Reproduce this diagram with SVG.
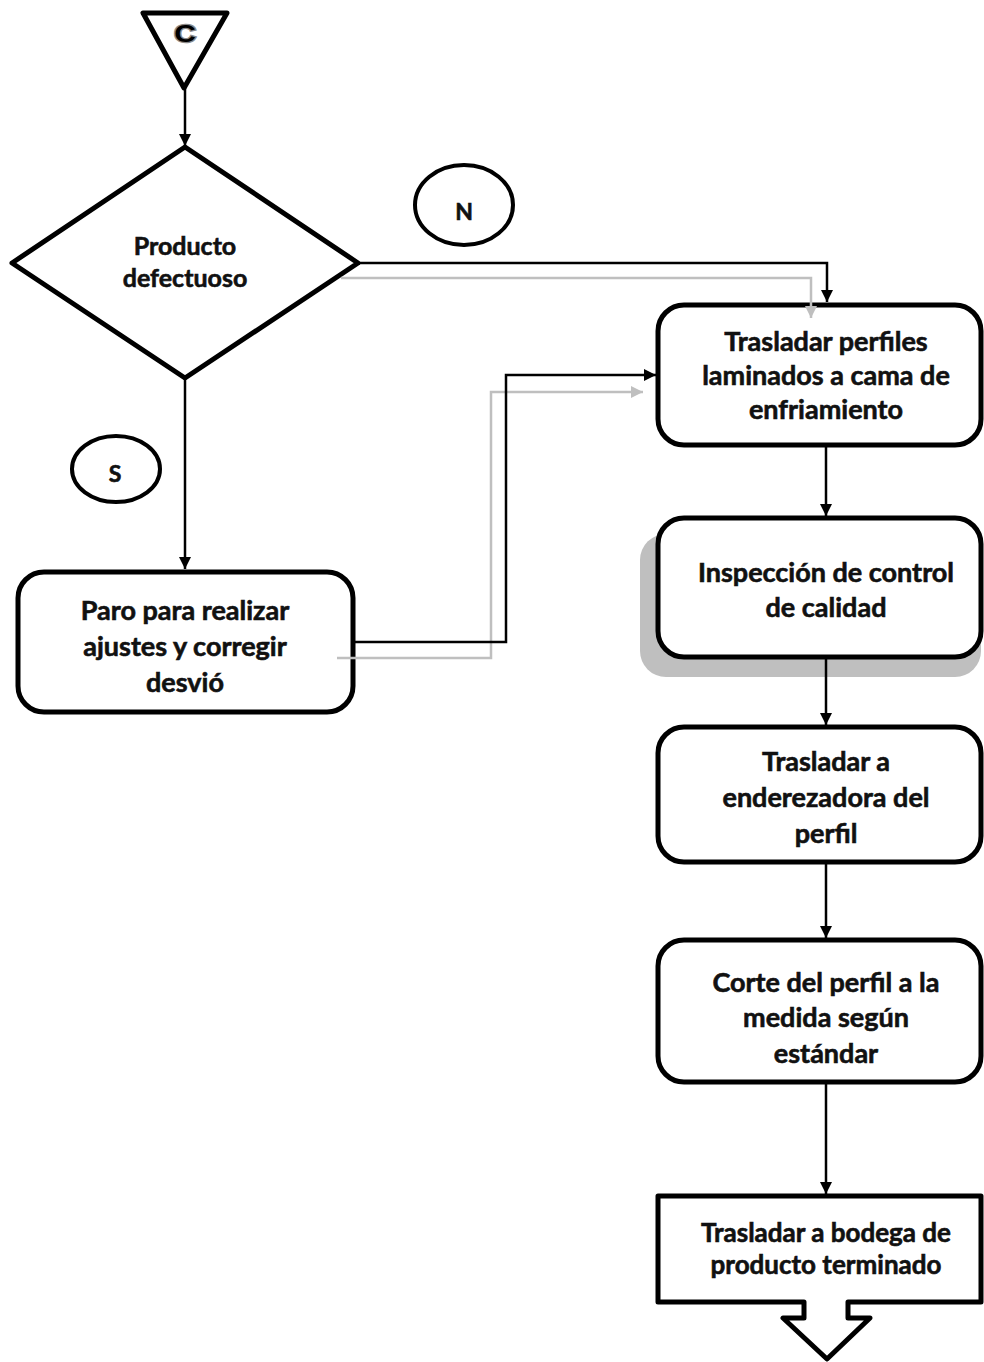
<svg xmlns="http://www.w3.org/2000/svg" width="984" height="1362" viewBox="0 0 984 1362">
<defs>
<style>
.box{fill:#fff;stroke:#000;stroke-width:5;stroke-linejoin:round}
.ell{fill:#fff;stroke:#000;stroke-width:4}
.t{font-family:Lato,"Open Sans","Liberation Sans",sans-serif;font-weight:bold;fill:#111;stroke:#111;stroke-width:0.6;text-anchor:middle}
.c{fill:none;stroke:#000;stroke-width:2.5}
.g{fill:none;stroke:#bfbfbf;stroke-width:2.5}
</style>
<marker id="ab" viewBox="0 0 10 10" refX="10" refY="5" markerWidth="14" markerHeight="12" markerUnits="userSpaceOnUse" orient="auto"><path d="M0,0L10,5L0,10z" fill="#000"/></marker>
<marker id="ag" viewBox="0 0 10 10" refX="10" refY="5" markerWidth="14" markerHeight="12" markerUnits="userSpaceOnUse" orient="auto"><path d="M0,0L10,5L0,10z" fill="#bfbfbf"/></marker>
</defs>
<rect width="984" height="1362" fill="#fff"/>
<g id="start">
<path class="box" d="M143,13H227L184,88z"/>
<text x="185" y="42" font-size="24" text-anchor="middle" transform="translate(185 0) scale(1.25 1) translate(-185 0)" style="font-family:'Liberation Sans',Arial,sans-serif;font-weight:bold;fill:#000;stroke:#8a8a8a;stroke-width:2.5;paint-order:stroke">C</text>
</g>
<g id="decision">
<path class="box" d="M185,147L358,263L185,378L12,263z"/>
<text class="t" x="185" y="255" font-size="25">Producto</text>
<text class="t" x="185" y="287" font-size="25">defectuoso</text>
</g>
<g id="labelN">
<ellipse class="ell" cx="464" cy="205" rx="49" ry="40"/>
<text class="t" x="464" y="220" font-size="23">N</text>
</g>
<g id="labelS">
<ellipse class="ell" cx="116" cy="469" rx="44" ry="33"/>
<text class="t" x="115" y="482" font-size="23">S</text>
</g>
<g id="paro">
<rect class="box" x="18" y="572" width="335" height="140" rx="26"/>
<text class="t" x="185" y="620" font-size="27">Paro para realizar</text>
<text class="t" x="185" y="656" font-size="27">ajustes y corregir</text>
<text class="t" x="185" y="692" font-size="27">desvió</text>
</g>
<g id="trasladar1">
<rect class="box" x="658" y="305" width="323" height="140" rx="26"/>
<text class="t" x="826" y="351" font-size="27">Trasladar perfiles</text>
<text class="t" x="826" y="385" font-size="27">laminados a cama de</text>
<text class="t" x="826" y="419" font-size="27">enfriamiento</text>
</g>
<g id="inspeccion">
<rect x="640" y="534" width="341" height="143" rx="26" fill="#bfbfbf"/>
<rect class="box" x="658" y="518" width="323" height="139" rx="26"/>
<text class="t" x="826" y="582" font-size="27">Inspección de control</text>
<text class="t" x="826" y="617" font-size="27">de calidad</text>
</g>
<g id="enderezadora">
<rect class="box" x="658" y="727" width="323" height="135" rx="26"/>
<text class="t" x="826" y="771" font-size="27">Trasladar a</text>
<text class="t" x="826" y="807" font-size="27">enderezadora del</text>
<text class="t" x="826" y="843" font-size="27">perfil</text>
</g>
<g id="corte">
<rect class="box" x="658" y="940" width="323" height="142" rx="26"/>
<text class="t" x="826" y="992" font-size="27">Corte del perfil a la</text>
<text class="t" x="826" y="1027" font-size="27">medida según</text>
<text class="t" x="826" y="1063" font-size="27">estándar</text>
</g>
<g id="bodega">
<path class="box" d="M658,1196H981V1302H848V1318H870L827,1359L783,1318H804V1302H658z"/>
<text class="t" x="826" y="1242" font-size="26">Trasladar a bodega de</text>
<text class="t" x="826" y="1274" font-size="26">producto terminado</text>
</g>
<g id="connectors">
<path class="g" d="M341,278H811V318" marker-end="url(#ag)"/>
<path class="g" d="M337,658H491V392H643" marker-end="url(#ag)"/>
<path class="c" d="M185,88V146" marker-end="url(#ab)"/>
<path class="c" d="M185,378V569" marker-end="url(#ab)"/>
<path class="c" d="M358,263H827V302" marker-end="url(#ab)"/>
<path class="c" d="M353,642H506V375H656" marker-end="url(#ab)"/>
<path class="c" d="M826,445V516" marker-end="url(#ab)"/>
<path class="c" d="M826,657V725" marker-end="url(#ab)"/>
<path class="c" d="M826,862V938" marker-end="url(#ab)"/>
<path class="c" d="M826,1082V1194" marker-end="url(#ab)"/>
</g>
</svg>
